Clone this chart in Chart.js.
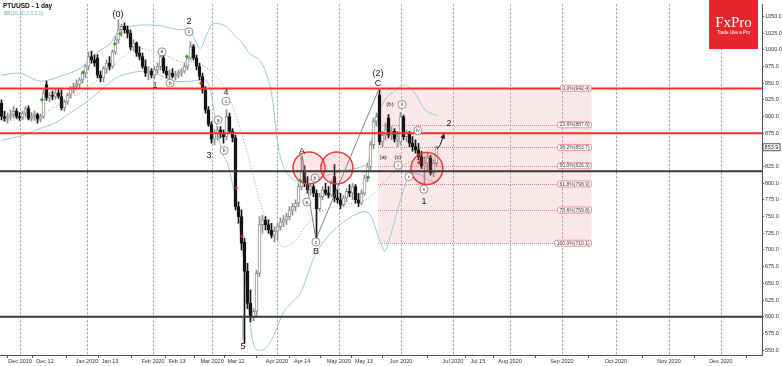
<!DOCTYPE html>
<html>
<head>
<meta charset="utf-8">
<script src="https://cdn.jsdelivr.net/npm/chart.js@4.4.1/dist/chart.umd.min.js"></script>
<style>
  html, body { margin: 0; padding: 0; background: #fff; }
</style>
</head>
<body>
<canvas id="chart" width="782" height="366"></canvas>
<script>
// PTUUSD daily candles, bar 0 = late Nov 2019 (one slot per trading day)
const opens = [
  920,900,897,900,903,908,900,898,905,912,
  897,900,903,896,900,948,928,932,930,935,
  930,913,922,932,942,945,948,955,965,975,
  990,985,988,962,958,972,980,975,997,1015,
  1030,1035,1030,1025,1004,1010,995,990,975,965,
  968,962,970,975,988,968,962,965,960,963,
  966,968,975,988,1005,988,975,960,940,910,
  888,866,875,880,876,870,900,878,868,765,
  750,712,668,620,600,608,665,738,745,738,
  730,722,728,735,742,745,750,760,765,770,
  795,820,800,790,795,785,762,780,790,785,
  782,810,778,775,768,778,788,785,795,775,
  770,785,808,825,858,893,932,862,872,898,
  872,878,866,862,900,870,875,860,855,850,
  840,826,830,838,816,830
];
const highs = [
  925,908,905,910,915,912,906,908,915,916,
  906,908,905,904,940,953,936,938,940,942,
  940,925,935,945,950,955,958,968,978,997,
  998,992,993,968,975,985,990,1000,1020,1045,
  1038,1040,1036,1030,1015,1012,1005,995,985,975,
  972,975,980,995,992,975,970,972,968,970,
  972,980,990,1012,1008,992,980,965,945,915,
  892,880,885,885,880,910,905,882,872,772,
  760,718,680,640,612,670,750,752,750,745,
  740,735,740,748,752,755,765,770,775,800,
  840,826,810,800,798,790,785,795,800,795,
  805,828,790,785,782,792,798,800,798,785,
  790,812,830,862,898,905,940,878,890,903,
  885,882,878,906,902,880,878,870,865,860,
  848,840,845,842,835,856
];
const lows = [
  895,893,890,895,898,897,894,895,900,895,
  893,894,890,892,897,924,922,925,926,927,
  910,908,918,928,935,940,942,950,958,970,
  980,975,958,952,952,965,970,972,993,1010,
  1020,1025,1018,1000,998,990,985,972,960,955,
  958,956,965,970,965,958,955,958,955,958,
  960,965,970,985,985,970,955,935,905,885,
  860,858,865,868,860,865,875,862,760,740,
  700,560,612,592,594,602,660,725,730,725,
  718,712,715,730,735,738,745,752,758,765,
  790,795,785,782,780,716,758,775,782,778,
  780,772,770,762,765,772,780,775,770,765,
  768,782,802,820,852,885,858,855,865,868,
  865,862,855,858,865,862,855,848,845,835,
  822,796,820,812,810,826
];
const closes = [
  900,897,900,903,908,900,898,905,912,897,
  900,903,896,900,935,928,932,930,935,930,
  913,922,932,942,945,948,955,965,975,990,
  985,980,962,958,972,980,975,997,1015,1030,
  1035,1030,1025,1004,1010,995,990,975,965,968,
  962,970,975,990,968,962,965,960,963,966,
  968,975,988,1005,988,975,960,940,910,888,
  866,875,880,876,870,900,878,868,765,750,
  710,668,620,600,608,665,738,745,738,730,
  722,728,735,742,745,750,760,765,770,795,
  820,800,790,795,785,762,780,790,785,782,
  800,778,775,768,778,788,785,795,775,770,
  785,808,825,858,893,900,862,872,880,872,
  878,866,870,900,870,875,860,855,850,840,
  826,830,838,816,830,853.9
];

// Bollinger Bands (20, 2): [bar, price]
const bbUpper = [
  [0,962],[6.2,965],[12.8,953],[19.5,960],[26.2,972],[29.5,987],[32.8,999],[36.2,1009],
  [38.8,1027],[41.2,1033],[46.2,1037],[52.8,1036],[57.8,1031],[62.8,1028],[66.2,1002],
  [68.5,1024],[70.5,1039],[74.5,1036],[77.2,1024],[80.5,1009],[82.8,994],[86.2,984],
  [88.8,957],[90.5,920],[91.8,868],[93.5,831],[96.2,809],[99.5,802],[104.5,807],
  [109.5,813],[114.5,819],[119.5,824],[122.2,831],[123.5,868],[125.5,905],[127.8,925],
  [131.2,939],[134.5,947],[137.8,935],[141.2,910],[145.2,901]
];
const bbMiddle = [
  [0,893],[6.2,896],[13.8,905],[21.8,925],[28.5,942],[36.2,972],[41.8,994],[46.2,1002],
  [49.5,999],[55.2,991],[59.5,982],[63.8,982],[69.5,969],[74.5,942],[79.5,883],[82.8,831],
  [86.2,772],[89.5,730],[93.8,705],[97.8,713],[101.2,735],[106.2,757],[112.8,767],
  [121.8,776],[128.5,806],[132.8,824],[137.2,834],[141.2,839],[145.2,839]
];
const bbLower = [
  [0,864],[6.2,871],[12.8,882],[17.8,890],[22.8,905],[27.8,920],[32.8,938],[37.8,957],
  [42.8,965],[47.8,968],[52.8,962],[57.8,953],[62.8,953],[68.5,953],[71.2,898],[73.5,846],
  [75.5,828],[78.5,762],[80.5,693],[82.8,594],[84.5,553],[87.2,550],[90.5,569],[93.8,605],
  [96.2,619],[99.5,634],[105.2,698],[112.8,738],[121.8,757],[126.2,713],[127.8,698],
  [130.5,735],[133.8,787],[136.2,813],[139.5,813],[142.8,804],[145.2,802]
];

// horizontal support / resistance levels
const redLevels = [942, 875];
const blackLevels = [818, 600];

// Fibonacci retracement
const fibPct = ['0.0', '23.6', '38.2', '50.0', '61.8', '78.6', '100.0'];
const fibLevel = [942.4, 887.6, 853.7, 826.3, 798.9, 759.8, 710.1];
const fibStart = 125.5, fibEnd = 196.7;

// red circles [bar, price]
const circles = [[102.5, 823], [111.8, 823], [141.8, 822]];

// signal marks
const greenMarks = [[13.5,925],[27.2,966],[37.8,1009],[39.5,1024],[61.8,990],[99.5,804],[122.2,809]];
const redMarks = [[66.5,950],[78.2,793],[80.2,721],[139.2,831]];

// wave count: text, bar, price, kind
const waveLabels = [
  ['(0)', 38.8, 1053, 'big'], ['2', 62.5, 1043, 'big'], ['c', 62.5, 1027, 'circ'],
  ['a', 53.5, 997, 'circ'], ['b', 56.2, 950, 'circ'], ['1', 51.2, 947, 'big'],
  ['4', 74.8, 936, 'big'], ['c', 74.8, 923, 'circ'], ['a', 72.2, 895, 'circ'],
  ['b', 74.2, 849, 'circ'], ['3', 69.2, 841, 'big'], ['5', 80.5, 556, 'big'],
  ['A', 100.2, 848, 'big'], ['a', 101.8, 772, 'circ'], ['b', 104.5, 808, 'circ'],
  ['c', 104.8, 712, 'circ'], ['B', 104.8, 697, 'big'], ['(2)', 125.5, 965, 'big'],
  ['C', 125.5, 950, 'big'], ['(b)', 129.5, 918, 'small'], ['(a)', 127.2, 839, 'small'],
  ['(c)', 132.2, 839, 'small'], ['i', 132.2, 827, 'circ'], ['ii', 133.5, 918, 'circ'],
  ['iii', 135.8, 810, 'circ'], ['iv', 138.8, 879, 'circ'], ['v', 140.8, 791, 'circ'],
  ['1', 140.8, 772, 'big'], ['2', 149.2, 890, 'big']
];
const waveLine = [[100.2, 842], [104.8, 716], [125.5, 938]];
const waveTick5 = [[80.5, 602], [80.5, 566]];
const forecastArrow = [[145.2, 851], [146.3, 858], [147.4, 872]];

// axis ticks
const xTickPos = [6.2, 14.5, 28.5, 36.2, 50.5, 58.5, 70.2, 78.2, 91.8, 100.2, 112.5, 120.8, 133.2, 150.5, 158.8, 169.5, 186.8, 204.8, 222.5, 239.8];
const xTickLabels = ['Dec 2019', 'Dec 12', 'Jan 2020', 'Jan 13', 'Feb 2020', 'Feb 13', 'Mar 2020', 'Mar 12', 'Apr 2020', 'Apr 14', 'May 2020', 'May 13', 'Jun 2020', 'Jul 2020', 'Jul 15', 'Aug 2020', 'Sep 2020', 'Oct 2020', 'Nov 2020', 'Dec 2020'];
const yTicks = [550, 575, 600, 625, 650, 675, 700, 725, 750, 775, 800, 825, 850, 875, 900, 925, 950, 975, 1000, 1025, 1050];

const UP_LINE = '#8f8f8f';
const DOWN = '#141414';
const isUp = i => closes[i] >= opens[i];
const isMonth = i => /\d{4}/.test(xTickLabels[i]);
const pts = arr => arr.map(([x, y]) => ({x, y}));
const hLine = v => [{x: -0.5, y: v}, {x: 253.5, y: v}];

const overlay = {
  id: 'overlay',
  beforeDatasetsDraw(chart) {
    const {ctx, chartArea: a, scales: {x, y}} = chart;
    ctx.save();
    // month grid lines
    ctx.strokeStyle = 'rgba(120,120,120,0.75)';
    ctx.lineWidth = 1;
    ctx.setLineDash([2, 2]);
    xTickPos.forEach((v, i) => {
      if (!isMonth(i)) return;
      const px = Math.round(x.getPixelForValue(v)) + 0.5;
      ctx.beginPath(); ctx.moveTo(px, a.top); ctx.lineTo(px, a.bottom); ctx.stroke();
    });

    // fib box
    const x0 = x.getPixelForValue(fibStart), x1 = x.getPixelForValue(fibEnd);
    const yt = y.getPixelForValue(fibLevel[0]), yb = y.getPixelForValue(fibLevel[fibLevel.length - 1]);
    ctx.fillStyle = 'rgba(232,150,158,0.22)';
    ctx.fillRect(x0, yt, x1 - x0, yb - yt);
    ctx.strokeStyle = 'rgba(214,96,108,0.75)';
    ctx.setLineDash([1, 1]);
    fibLevel.forEach(v => {
      const py = Math.round(y.getPixelForValue(v)) + 0.5;
      ctx.beginPath(); ctx.moveTo(x0, py); ctx.lineTo(x1, py); ctx.stroke();
    });
    ctx.restore();
  },
  afterDatasetsDraw(chart) {
    const {ctx, scales: {x, y}} = chart;
    ctx.save();

    // fib labels
    const x1 = x.getPixelForValue(fibEnd);
    ctx.font = '5px "Liberation Sans"';
    ctx.textBaseline = 'middle';
    ctx.textAlign = 'left';
    fibLevel.forEach((v, i) => {
      const txt = fibPct[i] + '%(' + v.toFixed(1) + ')';
      const w = ctx.measureText(txt).width + 4;
      const py = y.getPixelForValue(v);
      ctx.beginPath();
      ctx.roundRect(x1 - w, py - 3, w, 6, 2);
      ctx.fillStyle = 'rgba(255,255,255,0.9)';
      ctx.fill();
      ctx.strokeStyle = 'rgba(214,96,108,0.8)';
      ctx.lineWidth = 0.8;
      ctx.stroke();
      ctx.fillStyle = '#444';
      ctx.fillText(txt, x1 - w + 2, py + 0.3);
    });

    // wave lines
    ctx.strokeStyle = '#666';
    ctx.lineWidth = 0.8;
    ctx.beginPath();
    waveLine.forEach(([bx, v], i) => {
      const px = x.getPixelForValue(bx), py = y.getPixelForValue(v);
      if (i === 0) ctx.moveTo(px, py); else ctx.lineTo(px, py);
    });
    ctx.stroke();
    ctx.beginPath();
    ctx.moveTo(x.getPixelForValue(waveTick5[0][0]), y.getPixelForValue(waveTick5[0][1]));
    ctx.lineTo(x.getPixelForValue(waveTick5[1][0]), y.getPixelForValue(waveTick5[1][1]));
    ctx.stroke();

    // forecast arrow
    ctx.strokeStyle = '#111';
    ctx.lineWidth = 1;
    ctx.beginPath();
    forecastArrow.forEach(([bx, v], i) => {
      const px = x.getPixelForValue(bx), py = y.getPixelForValue(v);
      if (i === 0) ctx.moveTo(px, py); else ctx.lineTo(px, py);
    });
    ctx.stroke();
    const [ax, ay] = forecastArrow[forecastArrow.length - 1];
    const [bx2, by2] = forecastArrow[forecastArrow.length - 2];
    const tx = x.getPixelForValue(ax), ty = y.getPixelForValue(ay);
    const ang = Math.atan2(ty - y.getPixelForValue(by2), tx - x.getPixelForValue(bx2));
    ctx.fillStyle = '#111';
    ctx.beginPath();
    ctx.moveTo(tx + Math.cos(ang) * 2, ty + Math.sin(ang) * 2);
    ctx.lineTo(tx + Math.cos(ang + 2.5) * 4, ty + Math.sin(ang + 2.5) * 4);
    ctx.lineTo(tx + Math.cos(ang - 2.5) * 4, ty + Math.sin(ang - 2.5) * 4);
    ctx.closePath();
    ctx.fill();

    // wave labels
    ctx.textAlign = 'center';
    ctx.textBaseline = 'middle';
    waveLabels.forEach(([t, bx, v, kind]) => {
      const px = x.getPixelForValue(bx), py = y.getPixelForValue(v);
      if (kind === 'circ') {
        ctx.beginPath();
        ctx.arc(px, py, 4, 0, Math.PI * 2);
        ctx.fillStyle = '#fff';
        ctx.fill();
        ctx.strokeStyle = '#777';
        ctx.lineWidth = 0.8;
        ctx.stroke();
        ctx.fillStyle = '#333';
        ctx.font = (t.length > 2 ? '3.5px' : '5px') + ' "Liberation Sans"';
        ctx.fillText(t, px, py + 0.3);
      } else {
        ctx.fillStyle = '#222';
        ctx.font = kind === 'big' ? '9px "Liberation Sans"' : '6px "Liberation Sans"';
        ctx.fillText(t, px, py);
      }
    });
    ctx.restore();
  },
  afterDraw(chart) {
    const {ctx, chartArea: a, scales: {y}} = chart;
    ctx.save();
    // title
    ctx.textAlign = 'left';
    ctx.textBaseline = 'alphabetic';
    ctx.fillStyle = '#111';
    ctx.font = 'bold 6.5px "Liberation Sans"';
    ctx.fillText('PTUUSD - 1 day', 3, 8);
    ctx.fillStyle = '#6fb3c4';
    ctx.font = '5px "Liberation Sans"';
    ctx.fillText('BB(20,20,2.0,2.0)', 4, 15);

    // logo
    ctx.fillStyle = '#e5272d';
    ctx.fillRect(709, 0, 49, 49);
    ctx.fillStyle = '#fff';
    ctx.textAlign = 'center';
    ctx.font = '15px "Liberation Serif"';
    ctx.fillText('FxPro', 733.5, 27);
    ctx.font = '4.5px "Liberation Sans"';
    ctx.fillText('Trade Like a Pro', 733.5, 34);

    // last price box
    const last = closes[closes.length - 1];
    const py = y.getPixelForValue(last);
    ctx.fillStyle = '#fff';
    ctx.fillRect(a.right + 1, py - 3.5, 17, 7);
    ctx.strokeStyle = '#333';
    ctx.lineWidth = 0.8;
    ctx.strokeRect(a.right + 1, py - 3.5, 17, 7);
    ctx.fillStyle = '#222';
    ctx.font = '5.5px "Liberation Sans"';
    ctx.textBaseline = 'middle';
    ctx.fillText(last.toFixed(1), a.right + 9.5, py + 0.3);
    ctx.restore();
  }
};

const datasets = [
  ...redLevels.map(v => ({type: 'line', data: hLine(v), borderColor: '#ff2b2b', borderWidth: 2, pointRadius: 0, order: 0})),
  ...blackLevels.map(v => ({type: 'line', data: hLine(v), borderColor: '#3a3a3a', borderWidth: 2, pointRadius: 0, order: 0})),
  {type: 'scatter', data: pts(greenMarks), pointStyle: 'rectRot', pointRadius: 2, hoverRadius: 0, backgroundColor: '#2ea02e', borderWidth: 0, order: 0},
  {type: 'scatter', data: pts(redMarks), pointStyle: 'rectRot', pointRadius: 2, hoverRadius: 0, backgroundColor: '#d42020', borderWidth: 0, order: 0},
  {type: 'bubble', data: circles.map(([x, y]) => ({x, y, r: 16})), backgroundColor: 'rgba(255,90,90,0.16)', borderColor: '#f03a3a', borderWidth: 1.5, order: 1},
  {
    type: 'bar', data: opens.map((o, i) => ({x: i, y: [o, closes[i]]})),
    backgroundColor: c => isUp(c.dataIndex) ? '#fff' : DOWN,
    borderColor: c => isUp(c.dataIndex) ? UP_LINE : DOWN,
    borderWidth: 1, borderSkipped: false, barThickness: 3, minBarLength: 1, grouped: false, order: 2
  },
  {
    type: 'bar', data: lows.map((l, i) => ({x: i, y: [l, highs[i]]})),
    backgroundColor: c => isUp(c.dataIndex) ? UP_LINE : DOWN,
    borderWidth: 0, barThickness: 1, grouped: false, order: 3
  },
  {type: 'line', data: pts(bbUpper), borderColor: 'rgb(150,204,208)', borderWidth: 1, pointRadius: 0, tension: 0.3, order: 4},
  {type: 'line', data: pts(bbMiddle), borderColor: '#9a9a9a', borderWidth: 1, borderDash: [1, 2], pointRadius: 0, tension: 0.3, order: 4},
  {type: 'line', data: pts(bbLower), borderColor: 'rgb(150,204,208)', borderWidth: 1, pointRadius: 0, tension: 0.3, order: 4}
];

new Chart(document.getElementById('chart').getContext('2d'), {
  type: 'bar',
  data: {datasets},
  options: {
    responsive: false,
    animation: false,
    layout: {padding: 0, autoPadding: false},
    plugins: {legend: {display: false}, tooltip: {enabled: false}},
    scales: {
      x: {
        type: 'linear', min: -0.5, max: 253.5, offset: false,
        afterBuildTicks: s => { s.ticks = xTickPos.map(v => ({value: v})); },
        afterFit: s => { s.height = 11; },
        ticks: {
          autoSkip: false, maxRotation: 0, padding: 0,
          font: {family: 'Liberation Sans', size: 5.5}, color: '#333',
          callback: (v, i) => xTickLabels[i]
        },
        grid: {drawOnChartArea: false, tickColor: '#555', tickLength: 3},
        border: {color: '#555'}
      },
      y: {
        type: 'linear', position: 'right', min: 542.6, max: 1068.2,
        afterBuildTicks: s => { s.ticks = yTicks.map(v => ({value: v})); },
        afterFit: s => { s.width = 20; },
        ticks: {
          padding: 1, font: {family: 'Liberation Sans', size: 5.5}, color: '#333',
          callback: v => v.toFixed(1)
        },
        grid: {drawOnChartArea: false, tickColor: '#555', tickLength: 2},
        border: {color: '#555'}
      }
    }
  },
  plugins: [overlay]
});
</script>
</body>
</html>
